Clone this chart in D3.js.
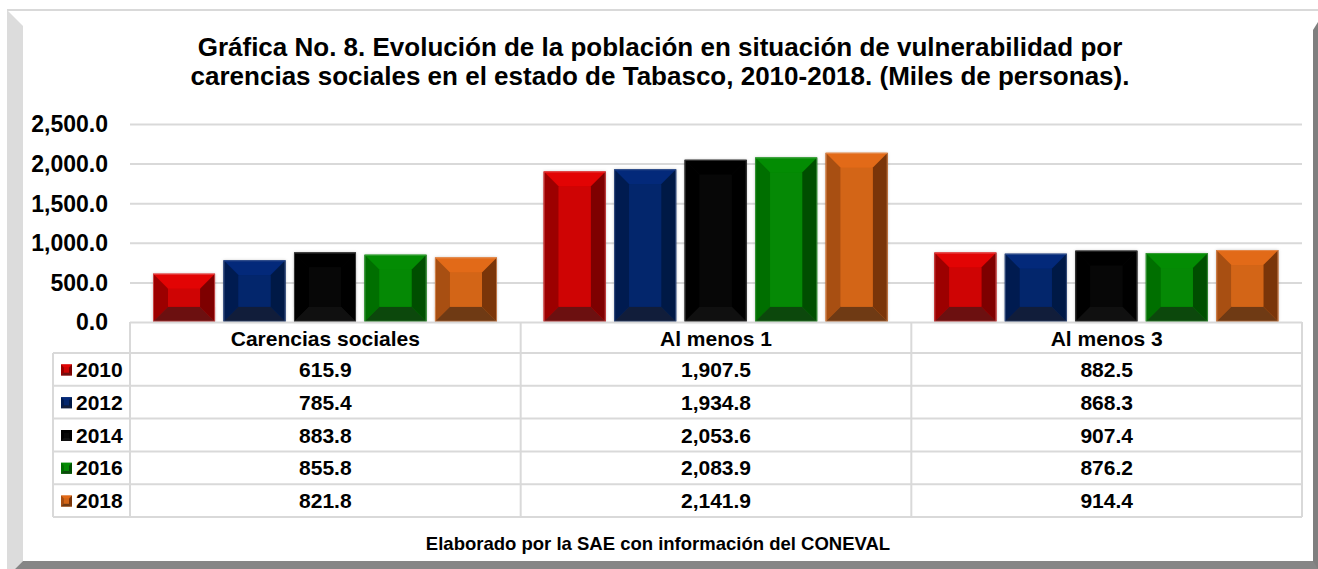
<!DOCTYPE html>
<html><head><meta charset="utf-8">
<script src="https://cdn.jsdelivr.net/npm/d3@7"></script>
<style>
html,body{margin:0;padding:0;background:#fff;}
svg{display:block;}
text{font-family:"Liberation Sans",Arial,sans-serif;font-weight:bold;fill:#000;}
</style></head>
<body>
<svg id="c" width="1318" height="569"></svg>
<script>
const categories = ["Carencias sociales", "Al menos 1", "Al menos 3"];
const years = ["2010", "2012", "2014", "2016", "2018"];
const v2010 = [615.9, 1907.5, 882.5];
const v2012 = [785.4, 1934.8, 868.3];
const v2014 = [883.8, 2053.6, 907.4];
const v2016 = [855.8, 2083.9, 876.2];
const v2018 = [821.8, 2141.9, 914.4];
const yTicks = [0, 500, 1000, 1500, 2000, 2500];
const titleLines = ["Gráfica No. 8. Evolución de la población en situación de vulnerabilidad por",
  "carencias sociales en el estado de Tabasco, 2010-2018. (Miles de personas)."];
const footer = "Elaborado por la SAE con información del CONEVAL";

const seriesValues = [v2010, v2012, v2014, v2016, v2018];
// bevel palettes: top, center, left, right, bottom, outline
const palettes = [
  {top:"#e20404", center:"#cf0404", left:"#9c0000", right:"#7e0000", bottom:"#6c1010", outline:"#e87070"},
  {top:"#03297a", center:"#03266c", left:"#001b50", right:"#001946", bottom:"#111d3a", outline:"#5a6f9c"},
  {top:"#000000", center:"#070707", left:"#000000", right:"#000000", bottom:"#101010", outline:"#5a5a5a"},
  {top:"#038c03", center:"#058905", left:"#006f00", right:"#004e00", bottom:"#0c480c", outline:"#5cae5c"},
  {top:"#e26a18", center:"#d36517", left:"#a84f12", right:"#7a3509", bottom:"#6f3a14", outline:"#e8a070"}
];

const svg = d3.select("#c");
const fmt = d3.format(",.1f");

// frame
svg.append("rect").attr("x",7).attr("y",9).attr("width",1311).attr("height",2).attr("fill","#d9d9d9");
svg.append("polygon").attr("points","7,10 23,26 23,561 15,569 7,569").attr("fill","#dcdcdc");
svg.append("polygon").attr("points","15,569 23,561 1313,561 1318,561 1318,569").attr("fill","#868686");
svg.append("polygon").attr("points","1313,30 1318,22 1318,569 1313,561").attr("fill","#7f7f7f");

// title
svg.append("g").selectAll("text").data(titleLines).join("text")
  .attr("x",660).attr("y",(d,i)=>56+i*29).attr("text-anchor","middle")
  .style("font-size","26px").text(d=>d);

const y = d3.scaleLinear().domain([0,2500]).range([322.5,124.5]);
const x0 = d3.scaleBand().domain(categories).range([130,1302]).padding(0);
const x1 = d3.scaleBand().domain(years).range([23,367]).paddingInner(0.12).paddingOuter(0);

// gridlines
svg.append("g").selectAll("line").data(yTicks.filter(t=>t>0)).join("line")
  .attr("x1",130).attr("x2",1302).attr("y1",d=>y(d)).attr("y2",d=>y(d))
  .attr("stroke","#d9d9d9").attr("stroke-width",2);

// y axis via d3 axis
const yAxis = svg.append("g").attr("transform","translate(108,0)")
  .call(d3.axisLeft(y).tickValues(yTicks).tickFormat(fmt).tickSize(0).tickPadding(0));
yAxis.select(".domain").remove();
yAxis.selectAll("text").style("font-size","23px").attr("font-family",null).attr("fill","#000");

// defs
const defs = svg.append("defs");
const f = defs.append("filter").attr("id","sh").attr("x","-20%").attr("y","-20%").attr("width","140%").attr("height","140%");
f.append("feDropShadow").attr("dx",0).attr("dy",0).attr("stdDeviation",1.8).attr("flood-color","#000").attr("flood-opacity",0.22);

function bevel(g, x0p, y0p, w, h, inset, pal, stroke){
  const xa=x0p, xb=x0p+w, ya=y0p, yb=y0p+h;
  const i=Math.min(inset, w/2-1, h/2-1);
  const gg = g.append("g");
  gg.append("rect").attr("x",xa).attr("y",ya).attr("width",w).attr("height",h).attr("fill",pal.center)
    .attr("filter", stroke ? "url(#sh)" : null);
  const polys = [
    [[xa,ya],[xb,ya],[xb-i,ya+i],[xa+i,ya+i], pal.top],
    [[xa,ya],[xa+i,ya+i],[xa+i,yb-i],[xa,yb], pal.left],
    [[xb,ya],[xb,yb],[xb-i,yb-i],[xb-i,ya+i], pal.right],
    [[xa,yb],[xa+i,yb-i],[xb-i,yb-i],[xb,yb], pal.bottom]
  ];
  polys.forEach(p=>{
    gg.append("polygon").attr("points",p.slice(0,4).map(q=>q.join(",")).join(" ")).attr("fill",p[4]);
  });
  gg.append("rect").attr("x",xa+i).attr("y",ya+i).attr("width",Math.max(0,w-2*i)).attr("height",Math.max(0,h-2*i)).attr("fill",pal.center);
  if(stroke){
    gg.append("rect").attr("x",xa+0.5).attr("y",ya+0.5).attr("width",w-1).attr("height",h-1)
      .attr("fill","none").attr("stroke",pal.outline).attr("stroke-width",1).attr("stroke-opacity",0.6);
  }
}

// bars
const barsG = svg.append("g");
categories.forEach((c,ci)=>{
  years.forEach((yr,si)=>{
    const v = seriesValues[si][ci];
    const bx = x0(c)+x1(yr);
    const by = y(v);
    const bh = y(0)-0.8-by;
    bevel(barsG, bx, by, x1.bandwidth(), bh, 15, palettes[si], true);
  });
});

// table
const tbl = svg.append("g");
const rowTop = 353, rowH = 32.8;
const lineCol = "#d9d9d9";
tbl.append("line").attr("x1",130).attr("x2",1302).attr("y1",322.5).attr("y2",322.5).attr("stroke",lineCol).attr("stroke-width",2);
d3.range(years.length+1).forEach(k=>{
  const yy = rowTop + k*rowH;
  tbl.append("line").attr("x1",53).attr("x2",1302).attr("y1",yy).attr("y2",yy).attr("stroke",lineCol).attr("stroke-width",2);
});
const tableBottom = rowTop + years.length*rowH;
[130, ...categories.map(c=>x0(c)+x0.bandwidth())].forEach(xx=>{
  tbl.append("line").attr("x1",xx).attr("x2",xx).attr("y1",322).attr("y2",tableBottom).attr("stroke",lineCol).attr("stroke-width",2);
});
tbl.append("line").attr("x1",53).attr("x2",53).attr("y1",rowTop).attr("y2",tableBottom).attr("stroke",lineCol).attr("stroke-width",2);

// header
tbl.selectAll("text.hdr").data(categories).join("text").attr("class","hdr")
  .attr("x",d=>x0(d)+x0.bandwidth()/2).attr("y",345.5).attr("text-anchor","middle")
  .style("font-size","21px").text(d=>d);

years.forEach((yr,si)=>{
  const cy = rowTop + si*rowH + rowH/2;
  bevel(tbl, 61, cy-5, 11, 11, 3, palettes[si], false);
  tbl.append("text").attr("x",76).attr("y",cy+7.5).style("font-size","21px").text(yr);
  categories.forEach((c,ci)=>{
    tbl.append("text").attr("x",x0(c)+x0.bandwidth()/2).attr("y",cy+7.5).attr("text-anchor","middle")
      .style("font-size","21px").text(fmt(seriesValues[si][ci]));
  });
});

// footer
svg.append("text").attr("x",658).attr("y",550).attr("text-anchor","middle").style("font-size","18.5px").text(footer);
</script>
</body></html>
